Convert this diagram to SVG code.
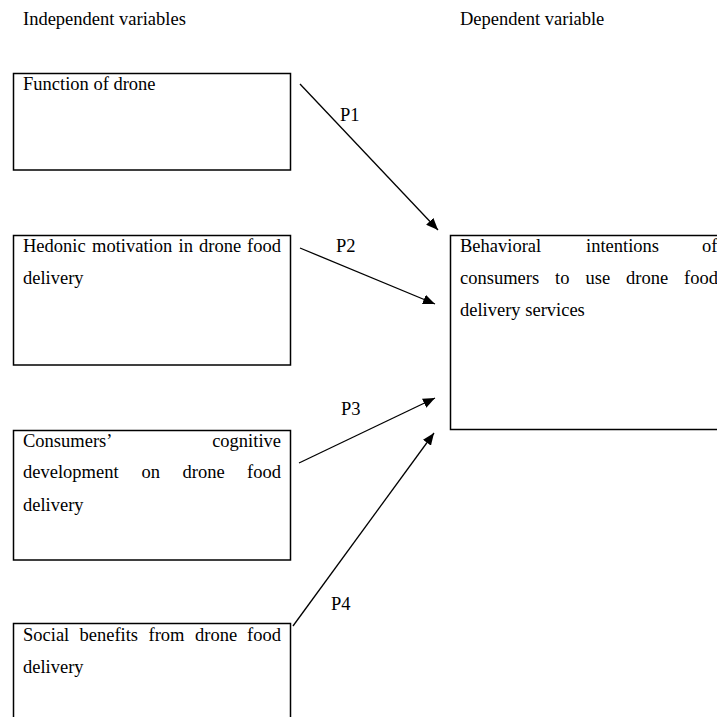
<svg xmlns="http://www.w3.org/2000/svg" width="717" height="717" viewBox="0 0 717 717">
  <style>
    text { font-family: "Liberation Serif", "Times New Roman", Tinos, "DejaVu Serif", serif; font-size: 18.5px; fill: #000; }
    .box { fill: #fff; stroke: #000; stroke-width: 1.5; }
    .conn { stroke: #000; stroke-width: 1.3; fill: none; marker-end: url(#arrow); }
    .end { text-anchor: end; }
  </style>
  <defs>
    <marker id="arrow" viewBox="0 0 12 10" refX="12" refY="5" markerWidth="12" markerHeight="10" markerUnits="userSpaceOnUse" orient="auto">
      <path d="M0,0 L12,5 L0,10 z" fill="#000"/>
    </marker>
  </defs>
  <rect width="717" height="717" fill="#fff"/>

  <!-- column headings -->
  <text x="23" y="25">Independent variables</text>
  <text x="460" y="25">Dependent variable</text>

  <g id="function-of-drone">
    <rect class="box" x="13.5" y="73.5" width="277" height="96.5"/>
    <text x="23" y="90">Function of drone</text>
  </g>

  <!-- justified lines: first word left, last word right-aligned, inner words spaced evenly -->
  <g id="hedonic-motivation">
    <rect class="box" x="13.5" y="235.5" width="277" height="129.5"/>
    <text y="252"><tspan x="23">Hedonic</tspan><tspan x="92">motivation</tspan><tspan x="178.5">in</tspan><tspan x="199">drone</tspan><tspan x="281" class="end">food</tspan></text>
    <text x="23" y="284">delivery</text>
  </g>

  <g id="cognitive-development">
    <rect class="box" x="13.5" y="430.5" width="277" height="129.5"/>
    <text y="447"><tspan x="23">Consumers’</tspan><tspan x="281" class="end">cognitive</tspan></text>
    <text y="478"><tspan x="23">development</tspan><tspan x="141.5">on</tspan><tspan x="182.5">drone</tspan><tspan x="281" class="end">food</tspan></text>
    <text x="23" y="511">delivery</text>
  </g>

  <g id="social-benefits">
    <rect class="box" x="13.5" y="623.5" width="277" height="110"/>
    <text y="641"><tspan x="23">Social</tspan><tspan x="79.5">benefits</tspan><tspan x="148.5">from</tspan><tspan x="195">drone</tspan><tspan x="281" class="end">food</tspan></text>
    <text x="23" y="673">delivery</text>
  </g>

  <g id="behavioral-intentions">
    <rect class="box" x="450.5" y="235.5" width="300" height="194"/>
    <text y="252"><tspan x="460">Behavioral</tspan><tspan x="586">intentions</tspan><tspan x="702">of</tspan></text>
    <text y="284"><tspan x="460">consumers</tspan><tspan x="555">to</tspan><tspan x="585.5">use</tspan><tspan x="626">drone</tspan><tspan x="684">food</tspan></text>
    <text x="460" y="316">delivery services</text>
  </g>

  <g id="connectors">
    <line class="conn" x1="300" y1="84" x2="438" y2="230"/>
    <line class="conn" x1="300" y1="248" x2="435" y2="304"/>
    <line class="conn" x1="299" y1="463" x2="435" y2="398"/>
    <line class="conn" x1="293" y1="626" x2="434" y2="433"/>
    <text x="340" y="121">P1</text>
    <text x="336" y="252">P2</text>
    <text x="341" y="415">P3</text>
    <text x="331" y="610">P4</text>
  </g>
</svg>
